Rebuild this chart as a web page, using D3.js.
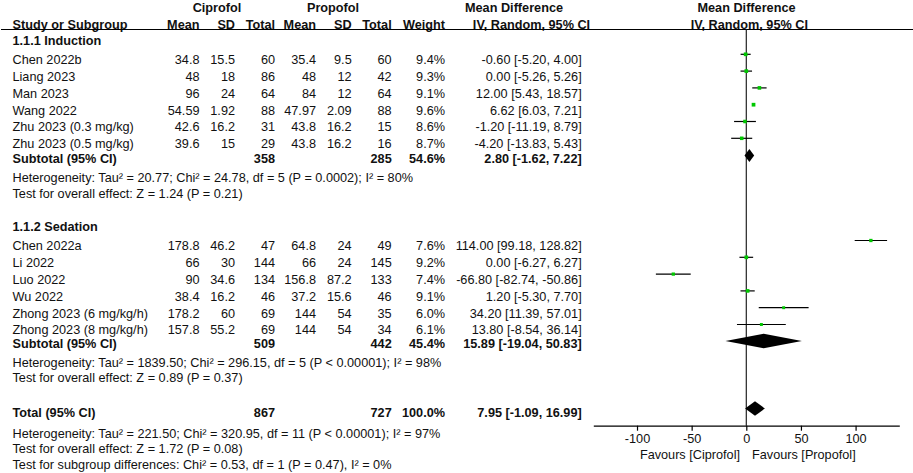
<!DOCTYPE html>
<html>
<head>
<meta charset="utf-8">
<script src="https://cdn.jsdelivr.net/npm/d3@7"></script>
<style>
html,body{margin:0;padding:0;background:#fff;}
svg{display:block;font-family:"Liberation Sans",Arial,sans-serif;font-size:12.7px;}
</style>
</head>
<body>
<svg id="chart" width="913" height="473"></svg>
<script>
// ---- data ----
const studyNames = ["Chen 2022b","Liang 2023","Man 2023","Wang 2022","Zhu 2023 (0.3 mg/kg)","Zhu 2023 (0.5 mg/kg)",
  "Chen 2022a","Li 2022","Luo 2022","Wu 2022","Zhong 2023 (6 mg/kg/h)","Zhong 2023 (8 mg/kg/h)"];
const studyGroup = [0,0,0,0,0,0,1,1,1,1,1,1];
const ciproMean = [34.8,48,96,54.59,42.6,39.6,178.8,66,90,38.4,178.2,157.8];
const ciproSD   = [15.5,18,24,1.92,16.2,15,46.2,30,34.6,16.2,60,55.2];
const ciproN    = [60,86,64,88,31,29,47,144,134,46,69,69];
const propoMean = [35.4,48,84,47.97,43.8,43.8,64.8,66,156.8,37.2,144,144];
const propoSD   = [9.5,12,12,2.09,16.2,16.2,24,24,87.2,15.6,54,54];
const propoN    = [60,42,64,88,15,16,49,145,133,46,35,34];
const weights   = [9.4,9.3,9.1,9.6,8.6,8.7,7.6,9.2,7.4,9.1,6.0,6.1];
const md        = [-0.60,0.00,12.00,6.62,-1.20,-4.20,114.00,0.00,-66.80,1.20,34.20,13.80];
const ciLow     = [-5.20,-5.26,5.43,6.03,-11.19,-13.83,99.18,-6.27,-82.74,-5.30,11.39,-8.54];
const ciHigh    = [4.00,5.26,18.57,7.21,8.79,5.43,128.82,6.27,-50.86,7.70,57.01,36.14];

const groupNames  = ["1.1.1 Induction","1.1.2 Sedation"];
const subCiproN   = [358,509];
const subPropoN   = [285,442];
const subWeight   = [54.6,45.4];
const subMD       = [2.80,15.89];
const subLow      = [-1.62,-19.04];
const subHigh     = [7.22,50.83];
const subHet      = ["Heterogeneity: Tau\u00b2 = 20.77; Chi\u00b2 = 24.78, df = 5 (P = 0.0002); I\u00b2 = 80%",
                     "Heterogeneity: Tau\u00b2 = 1839.50; Chi\u00b2 = 296.15, df = 5 (P < 0.00001); I\u00b2 = 98%"];
const subEffect   = ["Test for overall effect: Z = 1.24 (P = 0.21)",
                     "Test for overall effect: Z = 0.89 (P = 0.37)"];

const totalCiproN = 867, totalPropoN = 727, totalWeight = 100.0;
const totalMD = 7.95, totalLow = -1.09, totalHigh = 16.99;
const totalNotes = ["Heterogeneity: Tau\u00b2 = 221.50; Chi\u00b2 = 320.95, df = 11 (P < 0.00001); I\u00b2 = 97%",
                    "Test for overall effect: Z = 1.72 (P = 0.08)",
                    "Test for subgroup differences: Chi\u00b2 = 0.53, df = 1 (P = 0.47), I\u00b2 = 0%"];

const axisTicks = [-100,-50,0,50,100];
const axisDomain = [-140,140];
const favourLabels = ["Favours [Ciprofol]","Favours [Propofol]"];

// ---- layout ----
const svg = d3.select("#chart");
const x = d3.scaleLinear().domain(axisDomain).range([593.3, 899.3]);
const axisY = 425.7;
const green = "#00c800";
const col = {name:12.5, cM:199.5, cSD:235, cN:275, pM:316, pSD:351.7, pN:391.7, w:445, ci:581.7};

function txt(xp, yp, s, opts={}) {
  return svg.append("text").attr("x", xp).attr("y", yp)
    .attr("text-anchor", opts.anchor || "start")
    .attr("font-weight", opts.bold ? "bold" : "normal")
    .attr("fill", "#111").text(s);
}
const f2 = d => d.toFixed(2);
const ciStr = (m,l,h) => `${f2(m)} [${f2(l)}, ${f2(h)}]`;

// headers
txt(217, 11.5, "Ciprofol", {bold:true, anchor:"middle"});
txt(333, 11.5, "Propofol", {bold:true, anchor:"middle"});
txt(514, 11.5, "Mean Difference", {bold:true, anchor:"middle"});
txt(746.5, 11.5, "Mean Difference", {bold:true, anchor:"middle"});
txt(col.name, 28.5, "Study or Subgroup", {bold:true});
txt(col.cM, 28.5, "Mean", {bold:true, anchor:"end"});
txt(col.cSD, 28.5, "SD", {bold:true, anchor:"end"});
txt(col.cN, 28.5, "Total", {bold:true, anchor:"end"});
txt(col.pM, 28.5, "Mean", {bold:true, anchor:"end"});
txt(col.pSD, 28.5, "SD", {bold:true, anchor:"end"});
txt(col.pN, 28.5, "Total", {bold:true, anchor:"end"});
txt(col.w, 28.5, "Weight", {bold:true, anchor:"end"});
txt(531.5, 28.5, "IV, Random, 95% CI", {bold:true, anchor:"middle"});
txt(749.3, 28.5, "IV, Random, 95% CI", {bold:true, anchor:"middle"});
svg.append("line").attr("x1",1).attr("x2",913).attr("y1",29.5).attr("y2",29.5)
  .attr("stroke","#000").attr("stroke-width",1.2);

// zero line
svg.append("line").attr("x1",x(0)).attr("x2",x(0)).attr("y1",29.5).attr("y2",axisY)
  .attr("stroke","#222").attr("stroke-width",1.2);

// group layout
const groupLayout = [
  {head:44.5, first:54.3, sub:155.5, subText:163, het:182, eff:197.5},
  {head:230.5, first:240.5, sub:341, subText:347.5, het:367, eff:382}
];
const step = 16.8;

groupNames.forEach((g, gi) => {
  const L = groupLayout[gi];
  txt(col.name, L.head, g, {bold:true});
  const idx = studyNames.map((_, i) => i).filter(i => studyGroup[i] === gi);
  idx.forEach((i, k) => {
    const my = L.first + k * step;
    const ty = my + 9.8;
    txt(col.name, ty, studyNames[i]);
    txt(col.cM, ty, String(ciproMean[i]), {anchor:"end"});
    txt(col.cSD, ty, String(ciproSD[i]), {anchor:"end"});
    txt(col.cN, ty, String(ciproN[i]), {anchor:"end"});
    txt(col.pM, ty, String(propoMean[i]), {anchor:"end"});
    txt(col.pSD, ty, String(propoSD[i]), {anchor:"end"});
    txt(col.pN, ty, String(propoN[i]), {anchor:"end"});
    txt(col.w, ty, weights[i].toFixed(1) + "%", {anchor:"end"});
    txt(col.ci, ty, ciStr(md[i], ciLow[i], ciHigh[i]), {anchor:"end"});
    // CI line
    svg.append("line").attr("x1", x(ciLow[i])).attr("x2", x(ciHigh[i]))
      .attr("y1", my).attr("y2", my).attr("stroke","#000").attr("stroke-width",1.2);
    const s = 1.2 * Math.sqrt(weights[i]);
    svg.append("rect").attr("x", x(md[i]) - s/2).attr("y", my - s/2)
      .attr("width", s).attr("height", s).attr("fill", green);
  });
  // subtotal
  txt(col.name, L.subText, "Subtotal (95% CI)", {bold:true});
  txt(col.cN, L.subText, String(subCiproN[gi]), {bold:true, anchor:"end"});
  txt(col.pN, L.subText, String(subPropoN[gi]), {bold:true, anchor:"end"});
  txt(col.w, L.subText, subWeight[gi].toFixed(1) + "%", {bold:true, anchor:"end"});
  txt(col.ci, L.subText, ciStr(subMD[gi], subLow[gi], subHigh[gi]), {bold:true, anchor:"end"});
  const h = gi === 0 ? 6.5 : 7.2;
  svg.append("path").attr("d", `M${x(subLow[gi])},${L.sub} L${x(subMD[gi])},${L.sub-h} L${x(subHigh[gi])},${L.sub} L${x(subMD[gi])},${L.sub+h} Z`)
    .attr("fill","#000");
  txt(col.name, L.het, subHet[gi]);
  txt(col.name, L.eff, subEffect[gi]);
});

// total
const totY = 408.5;
txt(col.name, 417, "Total (95% CI)", {bold:true});
txt(col.cN, 417, String(totalCiproN), {bold:true, anchor:"end"});
txt(col.pN, 417, String(totalPropoN), {bold:true, anchor:"end"});
txt(col.w, 417, totalWeight.toFixed(1) + "%", {bold:true, anchor:"end"});
txt(col.ci, 417, ciStr(totalMD, totalLow, totalHigh), {bold:true, anchor:"end"});
svg.append("path").attr("d", `M${x(totalLow)},${totY} L${x(totalMD)},${totY-7.2} L${x(totalHigh)},${totY} L${x(totalMD)},${totY+7.2} Z`)
  .attr("fill","#000");
[437.5, 452.5, 468.5].forEach((yy, i) => txt(col.name, yy, totalNotes[i]));

// axis
const axis = d3.axisBottom(x).tickValues(axisTicks).tickSize(5).tickSizeOuter(0).tickPadding(3.5)
  .tickFormat(d3.format("d"));
const ag = svg.append("g").attr("transform", `translate(0,${axisY})`).call(axis);
ag.select(".domain").attr("stroke","#000").attr("stroke-width",1.2);
ag.selectAll(".tick line").attr("stroke","#000").attr("stroke-width",1.2);
ag.selectAll(".tick text").attr("font-size","12.7px").attr("fill","#111")
  .attr("font-family","\"Liberation Sans\",Arial,sans-serif")
  .text(d => d < 0 ? "-" + Math.abs(d) : String(d));
txt(740, 458.5, favourLabels[0], {anchor:"end"});
txt(752, 458.5, favourLabels[1]);
</script>
</body>
</html>
